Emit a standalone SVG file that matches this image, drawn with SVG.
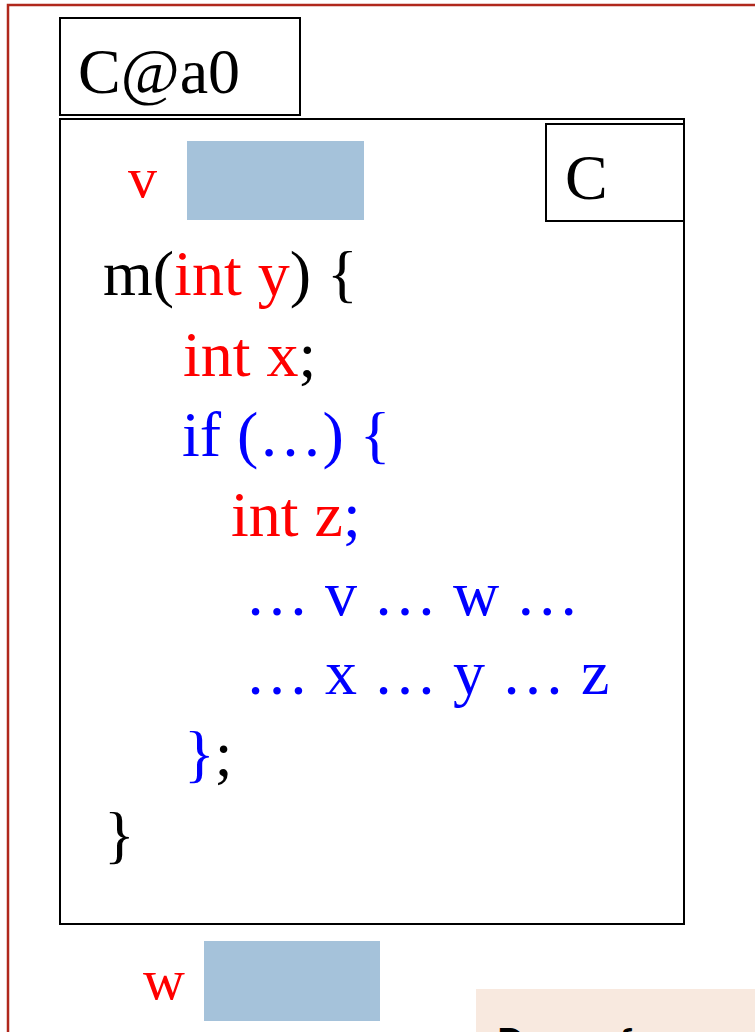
<svg xmlns="http://www.w3.org/2000/svg" width="755" height="1032" viewBox="0 0 755 1032">
<style>
.box{fill:#fff;stroke:#000;stroke-width:2}
.code{font-family:"Liberation Serif","Times New Roman",serif;font-size:64px}
.r{fill:#ff0000}.b{fill:#0000ff}.k{fill:#000}
.val{fill:#a5c2da}
</style>
<rect width="755" height="1032" fill="#fff"/>
<g id="frame">
<rect x="8" y="5" width="770" height="1050" fill="none" stroke="#b0281c" stroke-width="2.5"/>
</g>
<g id="object-label">
<rect class="box" x="60" y="18" width="240" height="97"/>
<text class="code k" x="78" y="93">C@a0</text>
</g>
<g id="object">
<rect class="box" x="60" y="119" width="624" height="805"/>
<g id="class-tag">
<rect class="box" x="546" y="124" width="138" height="97"/>
<text class="code k" x="565" y="199">C</text>
</g>
<g id="field-v">
<text class="code r" x="128" y="197" style="font-size:58px">v</text>
<rect class="val" x="187" y="141" width="177" height="79"/>
</g>
<g id="method">
<text class="code k" x="103" y="295">m(<tspan class="r">int y</tspan>) {</text>
<text class="code r" x="183" y="376">int x<tspan class="k">;</tspan></text>
<text class="code b" x="182" y="456">if (…) {</text>
<text class="code r" x="231" y="536">int z<tspan class="b">;</tspan></text>
<text class="code b" x="245" y="615">… v … w …</text>
<text class="code b" x="245" y="694">… x … y … z</text>
<text class="code b" x="184" y="775">}<tspan class="k">;</tspan></text>
<text class="code k" x="104" y="856">}</text>
</g>
</g>
<g id="field-w">
<text class="code r" x="143" y="999" style="font-size:58px">w</text>
<rect class="val" x="204" y="941" width="176" height="80"/>
</g>
<g id="note">
<rect x="476" y="989" width="290" height="60" fill="#f8e9df"/>
<text x="497" y="1054" style="font-family:Lato,'Liberation Sans',sans-serif;font-size:36px;font-weight:bold" fill="#000">Draw a frame per call</text>
</g>
</svg>
